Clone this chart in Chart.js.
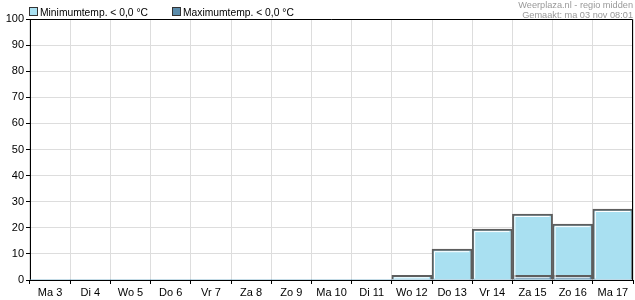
<!DOCTYPE html>
<html>
<head>
<meta charset="utf-8">
<script src="https://cdn.jsdelivr.net/npm/chart.js@4/dist/chart.umd.min.js"></script>
<style>
    html, body { margin: 0; padding: 0; background: #fff; }
    #wrap { width: 635px; height: 300px; position: relative; }
</style>
</head>
<body>
<div id="wrap"><canvas id="chart"></canvas></div>
<script>
// --- Data ---
const days = ['Ma 3', 'Di 4', 'Wo 5', 'Do 6', 'Vr 7', 'Za 8', 'Zo 9', 'Ma 10', 'Di 11', 'Wo 12', 'Do 13', 'Vr 14', 'Za 15', 'Zo 16', 'Ma 17'];
const minTempBelowZero = [0, 0, 0, 0, 0, 0, 0, 0, 0, 1.8, 11.8, 19.5, 25.3, 21.4, 27.2];
const maxTempBelowZero = [0, 0, 0, 0, 0, 0, 0, 0, 0, 0, 0, 0, 1.8, 1.8, 0];
const yTicks = [0, 10, 20, 30, 40, 50, 60, 70, 80, 90, 100];

const seriesNames = ['Minimumtemp. < 0,0 °C', 'Maximumtemp. < 0,0 °C'];
const seriesColors = ['#a9e0f1', '#5b8cab'];
const headerLines = ['Weerplaza.nl - regio midden', 'Gemaakt: ma 03 nov 08:01'];

const FONT = '"Liberation Sans", Arial, sans-serif';

// white highlight inside each bar + top/right frame of the plot
const decorations = {
    id: 'decorations',
    afterDatasetsDraw(chart) {
        const ctx = chart.ctx;
        ctx.save();
        chart.getSortedVisibleDatasetMetas().forEach(meta => {
            meta.data.forEach(bar => {
                const { x, y, base, width } = bar.getProps(['x', 'y', 'base', 'width'], true);
                if (base - y < 4) return;
                const left = x - width / 2 + 2.5;
                const right = x + width / 2 - 3;
                ctx.strokeStyle = '#ffffff';
                ctx.lineWidth = 1;
                ctx.beginPath();
                ctx.moveTo(left, base - 1);
                ctx.lineTo(left, y + 2.5);
                ctx.lineTo(right, y + 2.5);
                ctx.stroke();
            });
        });
        const a = chart.chartArea;
        const top = Math.round(a.top) + 0.5;
        const right = Math.round(a.right) - 0.5;
        ctx.strokeStyle = '#000';
        ctx.lineWidth = 1;
        ctx.beginPath();
        ctx.moveTo(a.left, top);
        ctx.lineTo(right, top);
        ctx.lineTo(right, a.bottom);
        ctx.stroke();
        ctx.restore();
    },
    afterDraw(chart) {
        const ctx = chart.ctx;
        ctx.save();
        // legend
        const legendX = [29, 172];
        ctx.font = '10.3px ' + FONT;
        ctx.textBaseline = 'alphabetic';
        seriesNames.forEach((name, i) => {
            ctx.fillStyle = seriesColors[i];
            ctx.fillRect(legendX[i], 7, 8, 8);
            ctx.strokeStyle = '#333';
            ctx.strokeRect(legendX[i] + 0.5, 7.5, 8, 8);
            ctx.fillStyle = '#000';
            ctx.fillText(name, legendX[i] + 11, 16);
        });
        // source / timestamp
        ctx.font = '9.2px ' + FONT;
        ctx.fillStyle = '#999';
        ctx.textAlign = 'right';
        ctx.fillText(headerLines[0], 633, 8);
        ctx.fillText(headerLines[1], 633, 18);
        ctx.restore();
    }
};

const barBorder = c => (c.raw > 0 ? 2 : 0);

new Chart(document.getElementById('chart'), {
    type: 'bar',
    data: {
        labels: days,
        datasets: [
            {
                label: seriesNames[0],
                data: minTempBelowZero,
                backgroundColor: seriesColors[0],
                borderColor: '#5e5e5e',
                borderWidth: barBorder,
                borderSkipped: 'bottom',
                categoryPercentage: 1,
                barPercentage: 1,
                order: 2
            },
            {
                label: seriesNames[1],
                data: maxTempBelowZero,
                backgroundColor: seriesColors[1],
                borderColor: '#5e5e5e',
                borderWidth: barBorder,
                borderSkipped: 'bottom',
                categoryPercentage: 1,
                barPercentage: 1,
                order: 1
            }
        ]
    },
    options: {
        responsive: true,
        maintainAspectRatio: false,
        animation: false,
        layout: { padding: { top: 19, right: 2, bottom: 0, left: 0 } },
        plugins: {
            legend: { display: false },
            tooltip: { enabled: false }
        },
        scales: {
            x: {
                stacked: true,
                grid: { color: '#dddddd', tickColor: '#000', tickLength: 4, offset: true },
                border: { color: '#000' },
                ticks: { color: '#000', font: { family: FONT, size: 11 }, padding: 2, maxRotation: 0, autoSkip: false },
                afterFit: scale => { scale.height = 20; }
            },
            y: {
                min: 0,
                max: 100,
                afterBuildTicks: scale => { scale.ticks = yTicks.map(v => ({ value: v })); },
                grid: { color: '#dddddd', tickColor: '#000', tickLength: 4 },
                border: { color: '#000' },
                ticks: { color: '#000', font: { family: FONT, size: 11 }, padding: 2 },
                afterFit: scale => { scale.width = 30; }
            }
        }
    },
    plugins: [decorations]
});
</script>
</body>
</html>
